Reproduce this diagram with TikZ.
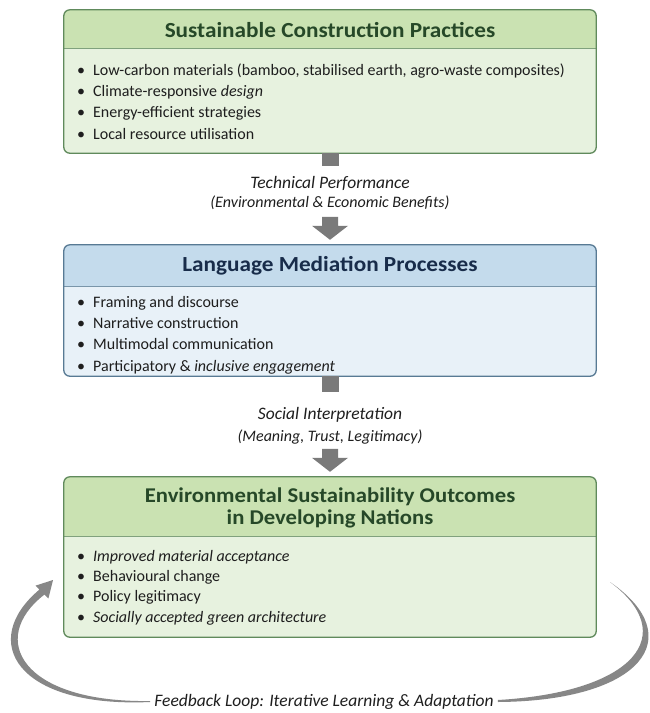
\documentclass[tikz,border=0pt]{standalone}
\usepackage{fontspec}
\setmainfont{Carlito}
\newfontfamily\titlefont{Carlito}[FakeStretch=1.08]
\usetikzlibrary{calc}
\definecolor{ghead}{RGB}{202,226,178}
\definecolor{gbody}{RGB}{231,242,223}
\definecolor{gborder}{RGB}{96,138,92}
\definecolor{gtitle}{RGB}{38,72,40}
\definecolor{bhead}{RGB}{196,219,236}
\definecolor{bbody}{RGB}{232,241,248}
\definecolor{bborder}{RGB}{88,122,148}
\definecolor{btitle}{RGB}{24,44,74}
\definecolor{agray}{RGB}{122,122,122}
\definecolor{txt}{RGB}{30,30,30}
\newcommand{\bl}[1]{\makebox[16pt][l]{•}#1}
\tikzset{
  boxbg/.style={rectangle, rounded corners=6pt, inner sep=0pt, minimum width=532pt},
  titletext/.style={font=\titlefont\fontsize{21.5}{22}\selectfont\bfseries, align=center, inner sep=0pt},
  listtext/.style={font=\fontsize{16}{21.3}\selectfont, align=left, anchor=base west, inner sep=0pt, text=txt},
  labelbig/.style={font=\fontsize{17.5}{18}\selectfont\itshape, inner sep=0pt, text=txt},
  labelsmall/.style={font=\fontsize{16}{18}\selectfont\itshape, inner sep=0pt, text=txt},
  arrowfill/.style={fill=agray},
  loopfill/.style={fill=agray!90}
}
\begin{document}
\begin{tikzpicture}[x=1pt,y=-1pt]
\useasboundingbox (0,0) rectangle (649,713);
\fill[white] (0,0) rectangle (649,713);

% ---------- Box 1 ----------
\node[boxbg, fill=gbody, minimum height=143pt] (b1) at (330,81.5) {};
\begin{scope}
  \clip[rounded corners=6pt] (b1.north west) rectangle (b1.south east);
  \fill[ghead] (b1.north west) rectangle ([yshift=-39pt]b1.north east);
\end{scope}
\draw[gborder!80, line width=0.8pt] ([yshift=-39pt]b1.north west) -- ([yshift=-39pt]b1.north east);
\draw[gborder, line width=1.3pt, rounded corners=6pt] (b1.north west) rectangle (b1.south east);
\node[titletext, text=gtitle] (t1) at (330,30) {Sustainable Construction Practices};
\node[listtext] (l1) at (77,139) {\bl{Low-carbon materials (bamboo, stabilised earth, agro-waste composites)}\\
\bl{Climate-responsive \textit{design}}\\
\bl{Energy-efficient strategies}\\
\bl{Local resource utilisation}};

% ---------- Box 2 ----------
\node[boxbg, fill=bbody, minimum height=131pt] (b2) at (330,310.5) {};
\begin{scope}
  \clip[rounded corners=6pt] (b2.north west) rectangle (b2.south east);
  \fill[bhead] (b2.north west) rectangle ([yshift=-42pt]b2.north east);
\end{scope}
\draw[bborder!80, line width=0.8pt] ([yshift=-42pt]b2.north west) -- ([yshift=-42pt]b2.north east);
\draw[bborder, line width=1.3pt, rounded corners=6pt] (b2.north west) rectangle (b2.south east);
\node[titletext, text=btitle] (t2) at (330,266) {Language Mediation Processes};
\node[listtext] (l2) at (77,371) {\bl{Framing and discourse}\\
\bl{Narrative construction}\\
\bl{Multimodal communication}\\
\bl{Participatory \& \textit{inclusive engagement}}};

% ---------- Box 3 ----------
\node[boxbg, fill=gbody, minimum height=160pt] (b3) at (330,557) {};
\begin{scope}
  \clip[rounded corners=6pt] (b3.north west) rectangle (b3.south east);
  \fill[ghead] (b3.north west) rectangle ([yshift=-60pt]b3.north east);
\end{scope}
\draw[gborder!80, line width=0.8pt] ([yshift=-60pt]b3.north west) -- ([yshift=-60pt]b3.north east);
\draw[gborder, line width=1.3pt, rounded corners=6pt] (b3.north west) rectangle (b3.south east);
\node[titletext, text=gtitle, font=\titlefont\fontsize{21}{22}\selectfont\bfseries] (t3) at (330,508) {Environmental Sustainability Outcomes\\in Developing Nations};
\node[listtext, font=\fontsize{16}{20.3}\selectfont] (l3) at (77,622) {\bl{\textit{Improved material acceptance}}\\
\bl{Behavioural change}\\
\bl{Policy legitimacy}\\
\bl{\textit{Socially accepted green architecture}}};

% ---------- Arrow 1 ----------
\fill[arrowfill] ([xshift=-8.5pt]b1.south) rectangle ([xshift=8.5pt,yshift=-13pt]b1.south);
\node[labelbig] (a1) at (330,183) {Technical Performance};
\node[labelsmall] (a1b) at (330,203) {(Environmental \& Economic Benefits)};
\fill[arrowfill] ([yshift=5pt]b2.north) -- ++(-18pt,14pt) -- ++(10pt,0pt) -- ++(0pt,9pt) -- ++(16pt,0pt) -- ++(0pt,-9pt) -- ++(10pt,0pt) -- cycle;

% ---------- Arrow 2 ----------
\fill[arrowfill] ([xshift=-8.5pt]b2.south) rectangle ([xshift=8.5pt,yshift=-16pt]b2.south);
\node[labelbig] (a2) at (330,415) {Social Interpretation};
\node[labelsmall] (a2b) at (330,437) {(Meaning, Trust, Legitimacy)};
\fill[arrowfill] ([yshift=5pt]b3.north) -- ++(-18pt,14pt) -- ++(10pt,0pt) -- ++(0pt,9pt) -- ++(16pt,0pt) -- ++(0pt,-9pt) -- ++(10pt,0pt) -- cycle;

% ---------- Feedback loop ----------
\node[labelsmall, font=\fontsize{17.5}{18}\selectfont\itshape] (fb) at (324,702) {Feedback Loop: Iterative Learning \& Adaptation};
\coordinate (lt) at ([xshift=-4pt]fb.west);
\coordinate (rt) at ([xshift=4pt]fb.east);
% left tapered arc with arrowhead
\fill[loopfill] (lt) .. controls (16,708) and (-22,641) .. (39.5,589.5)
  -- (35.6,585.6) -- (53,580) -- (48.4,598.4) -- (44.5,594.5)
  .. controls (-13,639) and (22,703) .. ([yshift=1pt]lt) -- cycle;
% right crescent arc
\fill[loopfill] (rt) .. controls (642,701) and (690,637) .. (610,582)
  .. controls (680,634) and (636,692) .. ([yshift=2pt]rt) -- cycle;
\end{tikzpicture}
\end{document}
